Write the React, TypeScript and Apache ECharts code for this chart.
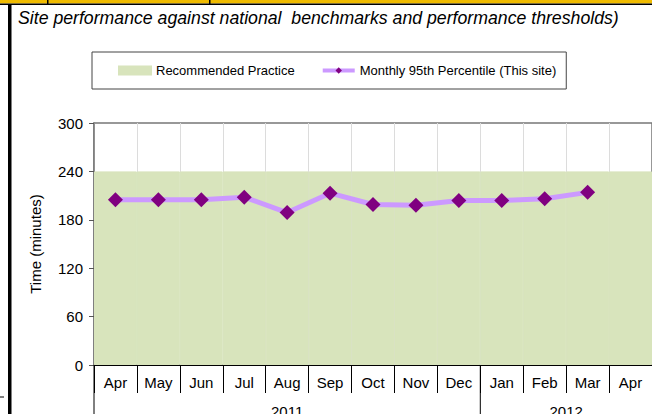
import React, { useEffect, useRef } from "react";
import * as echarts from "echarts";

const titleText = "Site performance against national  benchmarks and performance thresholds)";
const months = ["Apr", "May", "Jun", "Jul", "Aug", "Sep", "Oct", "Nov", "Dec", "Jan", "Feb", "Mar", "Apr"];
const percentile95: (number | null)[] = [205, 205, 205, 208, 189, 213, 199, 198, 204, 204, 206, 214, null];
const recommended = [240, 240, 240, 240, 240, 240, 240, 240, 240, 240, 240, 240, 240];
const yMin = 0;
const yMax = 300;
const yInterval = 60;
const yearGroups = [
  { year: "2011", start: 0, end: 8 },
  { year: "2012", start: 9, end: 12 },
];

const FONT = "'Liberation Sans', Arial, sans-serif";

export default function App() {
  const ref = useRef<HTMLDivElement>(null);
  useEffect(() => {
    if (!ref.current) return;
    const chart = echarts.init(ref.current, undefined, { renderer: "svg" });
    chart.setOption({
      animation: false,
      backgroundColor: "#ffffff",
      title: {
        text: titleText,
        left: 18,
        top: 9,
        padding: 0,
        textStyle: {
          fontFamily: FONT,
          fontSize: 17.7,
          fontStyle: "italic",
          fontWeight: "normal",
          color: "#000",
        },
      },
      legend: {
        left: 92,
        top: 52,
        padding: [12, 10, 12, 26],
        itemGap: 26,
        itemWidth: 32,
        itemHeight: 8,
        borderColor: "#444",
        borderWidth: 1,
        textStyle: { fontFamily: FONT, fontSize: 13, color: "#000" },
        data: [
          { name: "Recommended Practice", icon: "rect" },
          { name: "Monthly 95th Percentile (This site)", lineStyle: { width: 4 } },
        ],
      },
      grid: {
        left: 94,
        top: 123,
        right: -1,
        bottom: 49,
        show: true,
        borderColor: "#777",
        borderWidth: 1.5,
        backgroundColor: "transparent",
      },
      xAxis: {
        type: "category",
        data: months,
        boundaryGap: true,
        axisLine: { lineStyle: { color: "#000", width: 1 } },
        axisTick: { show: true, length: 28, interval: 0, lineStyle: { color: "#000", width: 1 } },
        axisLabel: { interval: 0, margin: 10, fontFamily: FONT, fontSize: 15, color: "#000" },
        splitLine: { show: true, interval: 0, lineStyle: { color: "#dcdcdc", width: 1 } },
      },
      yAxis: {
        type: "value",
        min: yMin,
        max: yMax,
        interval: yInterval,
        name: "Time (minutes)",
        nameLocation: "middle",
        nameGap: 51,
        nameTextStyle: { fontFamily: FONT, fontSize: 15, color: "#000" },
        axisLine: { show: true, lineStyle: { color: "#777", width: 1.5 } },
        axisTick: { show: true, length: 5, lineStyle: { color: "#555", width: 1 } },
        axisLabel: { margin: 11, fontFamily: FONT, fontSize: 15, color: "#000" },
        splitLine: { show: false },
      },
      series: [
        {
          name: "Recommended Practice",
          type: "bar",
          data: recommended,
          barCategoryGap: "0%",
          itemStyle: { color: "#d8e4bc", borderColor: "#d8e4bc", borderWidth: 1 },
        },
        {
          name: "Monthly 95th Percentile (This site)",
          type: "line",
          data: percentile95,
          symbol: "diamond",
          symbolSize: 15,
          lineStyle: { color: "#cc99ff", width: 5 },
          itemStyle: { color: "#800080" },
          connectNulls: false,
        },
      ],
    });

    const px = (i: number) => chart.convertToPixel({ xAxisIndex: 0 }, i) as number;
    const bw = px(1) - px(0);
    const axisY = chart.convertToPixel({ yAxisIndex: 0 }, 0) as number;
    const graphics: any[] = [
      { type: "rect", shape: { x: 0, y: 0, width: 652, height: 3.5 }, style: { fill: "#f0bb00" }, z: 10 },
      { type: "rect", shape: { x: 0, y: 3.5, width: 652, height: 1.5 }, style: { fill: "#000" }, z: 10 },
      { type: "rect", shape: { x: 47, y: 0, width: 1.5, height: 4 }, style: { fill: "#000" }, z: 10 },
      { type: "rect", shape: { x: 209, y: 0, width: 1.5, height: 4 }, style: { fill: "#000" }, z: 10 },
      { type: "rect", shape: { x: 8, y: 4, width: 3.5, height: 410 }, style: { fill: "#000" }, z: 10 },
      { type: "line", shape: { x1: 0, y1: 397, x2: 4, y2: 397 }, style: { stroke: "#000", lineWidth: 1 }, z: 10 },
    ];
    yearGroups.forEach((g) => {
      const x0 = px(g.start) - bw / 2;
      const cx = (px(g.start) + px(g.end)) / 2;
      graphics.push({
        type: "line",
        shape: { x1: x0, y1: axisY, x2: x0, y2: 414 },
        style: { stroke: "#000", lineWidth: 1 },
        z: 10,
      });
      graphics.push({
        type: "text",
        x: cx,
        y: 404,
        style: {
          text: g.year,
          fontFamily: FONT,
          fontSize: 15,
          fill: "#000",
          align: "center",
          verticalAlign: "top",
        },
        z: 10,
      });
    });
    chart.setOption({ graphic: graphics });

    return () => chart.dispose();
  }, []);
  return (
    <div
      ref={ref}
      style={{ position: "fixed", left: 0, top: 0, width: 652, height: 414 }}
    />
  );
}
